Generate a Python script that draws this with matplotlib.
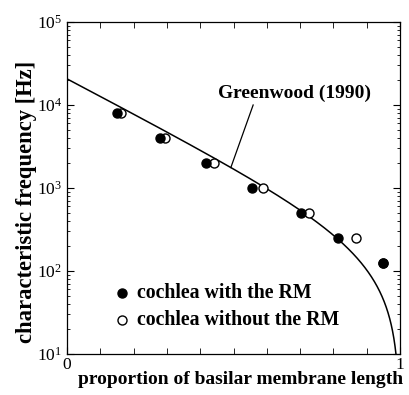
import numpy as np
import matplotlib
matplotlib.use("Agg")
import matplotlib.pyplot as plt
from matplotlib.ticker import LogLocator, MultipleLocator, FixedLocator, NullFormatter

plt.rcParams['font.family'] = ['Liberation Serif', 'DejaVu Serif']
plt.rcParams['mathtext.fontset'] = 'stix'

# measured points (octave frequencies) along the basilar membrane
freq_hz = [8000, 4000, 2000, 1000, 500, 250, 125]
pos_with_rm = [0.150, 0.280, 0.417, 0.556, 0.703, 0.815, 0.950]
pos_without_rm = [0.163, 0.293, 0.440, 0.588, 0.727, 0.868, 0.950]

# Greenwood (1990) human cochlear map, x measured from the base
gw_A = 165.4
gw_a = 2.1
gw_k = 1.0

def greenwood(x):
    return gw_A * (10 ** (gw_a * (1 - x)) - gw_k)

fig = plt.figure(figsize=(4.09, 3.95), dpi=100)
ax = fig.add_axes([67 / 409, 1 - 354 / 395, 333 / 409, 332 / 395])

xs = np.linspace(0, 1, 2000)
ys = greenwood(xs)
ax.plot(xs, ys, color='black', lw=1.1, zorder=2)

ax.plot(pos_without_rm, freq_hz, 'o', ms=6.5, mfc='white', mec='black', mew=1.0, zorder=3)
ax.plot(pos_with_rm, freq_hz, 'o', ms=6.5, mfc='black', mec='black', zorder=4)

ax.set_yscale('log')
ax.set_xlim(0, 1)
ax.set_ylim(10, 1e5)

ax.xaxis.set_major_locator(FixedLocator([0, 1]))
ax.xaxis.set_minor_locator(MultipleLocator(0.1))
ax.yaxis.set_major_locator(LogLocator(base=10, numticks=10))
ax.yaxis.set_minor_locator(LogLocator(base=10, subs=np.arange(2, 10), numticks=10))
ax.yaxis.set_minor_formatter(NullFormatter())
ax.tick_params(which='both', direction='in', top=True, right=True, labelsize=12.5)
ax.tick_params(which='major', length=5, width=0.8)
ax.tick_params(which='minor', length=2.5, width=0.6)
ax.tick_params(axis='x', which='minor', length=4)
ax.tick_params(axis='x', pad=2)

for s in ax.spines.values():
    s.set_linewidth(0.9)

ax.set_xlabel('proportion of basilar membrane length', fontsize=14, fontweight='bold', labelpad=-1, x=0.52)
ax.set_ylabel('characteristic frequency [Hz]', fontsize=16.3, fontweight='bold', labelpad=0, y=0.458)

# label for the Greenwood curve with a leader line
ax.text(0.682, 1.4e4, 'Greenwood (1990)', ha='center', va='center', fontsize=14, fontweight='bold')
x_lead = 0.492
ax.plot([0.559, x_lead], [1.0e4, greenwood(x_lead)], color='black', lw=0.9)

# legend drawn by hand
ax.plot([0.165], [10 ** 1.74], 'o', ms=6.5, mfc='black', mec='black')
ax.plot([0.165], [10 ** 1.415], 'o', ms=6.5, mfc='white', mec='black', mew=1.0)
ax.text(0.21, 10 ** 1.74, 'cochlea with the RM', fontsize=14.3, fontweight='bold', va='center')
ax.text(0.21, 10 ** 1.415, 'cochlea without the RM', fontsize=14.3, fontweight='bold', va='center')

fig.savefig('out.png', dpi=100)
